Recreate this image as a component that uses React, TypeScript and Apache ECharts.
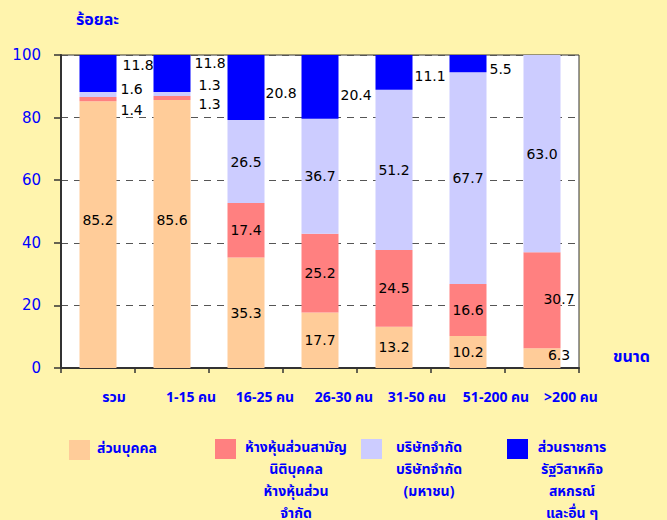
import React, { useEffect, useRef } from "react";
import * as echarts from "echarts";

const categories = ["รวม", "1-15 คน", "16-25 คน", "26-30 คน", "31-50 คน", "51-200 คน", ">200 คน"];
const personal = [85.2, 85.6, 35.3, 17.7, 13.2, 10.2, 6.3];
const partnership = [1.4, 1.3, 17.4, 25.2, 24.5, 16.6, 30.7];
const company = [1.6, 1.3, 26.5, 36.7, 51.2, 67.7, 63.0];
const government = [11.8, 11.8, 20.8, 20.4, 11.1, 5.5, 0];
const yTicks = [0, 20, 40, 60, 80, 100];

const seriesNames = [
  "ส่วนบุคคล",
  "ห้างหุ้นส่วนสามัญ\nนิติบุคคล\nห้างหุ้นส่วน\nจำกัด",
  "บริษัทจำกัด\nบริษัทจำกัด\n(มหาชน)",
  "ส่วนราชการ\nรัฐวิสาหกิจ\nสหกรณ์\nและอื่น ๆ",
];
const seriesValues = [personal, partnership, company, government];
const colors = ["#FFCC99", "#FF8080", "#CCCCFF", "#0000FF"];

// layout-only tweaks
const labelTweaks: Record<string, { pos: string; dx: number; dy: number }> = {
  "0-0": { pos: "inside", dx: 0, dy: -15 },
  "0-1": { pos: "inside", dx: 0, dy: -14 },
  "0-6": { pos: "inside", dx: 17, dy: -3 },
  "1-0": { pos: "right", dx: 2, dy: 11 },
  "1-1": { pos: "right", dx: 6, dy: 6 },
  "1-6": { pos: "inside", dx: 17, dy: -1 },
  "2-0": { pos: "right", dx: 2, dy: -5 },
  "2-1": { pos: "right", dx: 6, dy: -9 },
  "3-0": { pos: "right", dx: 4, dy: -8 },
  "3-1": { pos: "right", dx: 2, dy: -10 },
  "3-2": { pos: "right", dx: -1, dy: 5 },
  "3-3": { pos: "right", dx: 0, dy: 8 },
  "3-4": { pos: "right", dx: 0, dy: 4 },
  "3-5": { pos: "right", dx: 1, dy: 5 },
};
const xLabelShift = [16, 19, 19, 24, 23, 28, 29];
const legendLayout = [
  { left: 69, width: 64 },
  { left: 215, width: 110 },
  { left: 361, width: 84 },
  { left: 507, width: 78 },
];
const LEGEND_LINE = 22;
const LEGEND_LIFT = 4;
const LEGEND_CENTER_Y = 453;

const THAI = "Tahoma, 'Noto Sans Thai', 'Noto Sans', 'DejaVu Sans', sans-serif";
const NUM = "'DejaVu Sans', Verdana, sans-serif";
const BLUE = "#0000FF";

export default function App() {
  const ref = useRef<HTMLDivElement>(null);
  useEffect(() => {
    document.body.style.margin = "0";
    const chart = echarts.init(ref.current!, undefined, { renderer: "svg" });
    const series = seriesValues.map((vals, s) => ({
      type: "bar",
      name: seriesNames[s],
      stack: "total",
      barWidth: "50%",
      itemStyle: { color: colors[s] },
      label: {
        show: true,
        position: "inside",
        color: "#000",
        fontFamily: NUM,
        fontSize: 14,
        formatter: (p: any) => (p.value ? Number(p.value).toFixed(1) : ""),
      },
      data: vals.map((v, i) => {
        const t = labelTweaks[`${s}-${i}`];
        return t
          ? { value: v, label: { position: t.pos, distance: 2, offset: [t.dx, t.dy] } }
          : { value: v };
      }),
    }));
    chart.setOption({
      animation: false,
      backgroundColor: "#FFF4AD",
      grid: {
        left: 61,
        top: 55,
        right: 88,
        bottom: 152,
        show: true,
        backgroundColor: "#FFFFFF",
        borderColor: "#333",
        borderWidth: 1,
      },
      legend: legendLayout.map((l, s) => {
        const n = seriesNames[s].split("\n").length;
        return {
          data: [seriesNames[s]],
          left: l.left,
          top: LEGEND_CENTER_Y - ((2 * n - 1) * LEGEND_LINE + LEGEND_LIFT) / 2,
          padding: 0,
          itemWidth: 21,
          itemHeight: 20,
          icon: "rect",
          selectedMode: false,
          formatter: (name: string) => {
            const lines = name.split("\n");
            const pad = lines.slice(1).map(() => "{c| }");
            return pad.concat(lines.map((line) => `{c|${line}}`)).join("\n");
          },
          textStyle: {
            color: BLUE,
            padding: [0, 0, LEGEND_LIFT, 0],
            rich: {
              c: {
                width: l.width,
                align: "center",
                lineHeight: LEGEND_LINE,
                fontSize: 14,
                fontWeight: "bold",
                fontFamily: THAI,
                color: BLUE,
              },
            },
          },
        };
      }),
      xAxis: {
        type: "category",
        data: categories.map((c, i) => ({
          value: c,
          textStyle: { padding: [0, 0, 0, 2 * xLabelShift[i]] },
        })),
        axisLine: { show: true, lineStyle: { color: "#333", width: 2 } },
        axisTick: { show: true, length: 5, lineStyle: { color: "#333", width: 1.5 } },
        axisLabel: {
          interval: 0,
          color: BLUE,
          fontSize: 14,
          fontWeight: "bold",
          fontFamily: THAI,
          margin: 22,
        },
      },
      yAxis: {
        type: "value",
        min: yTicks[0],
        max: yTicks[yTicks.length - 1],
        interval: 20,
        axisLine: { show: true, lineStyle: { color: "#333", width: 2 } },
        axisTick: { show: true, length: 7, lineStyle: { color: "#333", width: 1.5 } },
        axisLabel: {
          color: BLUE,
          fontSize: 15,
          fontFamily: NUM,
          margin: 20,
          padding: [8, 0, 0, 0],
        },
        splitLine: {
          show: true,
          lineStyle: { color: "#555", type: [7, 6], width: 1.2 },
        },
      },
      graphic: [
        {
          type: "text",
          left: 76,
          top: 12,
          style: { text: "ร้อยละ", fill: BLUE, font: `bold 16px ${THAI}` },
        },
        {
          type: "text",
          left: 613,
          top: 349,
          style: { text: "ขนาด", fill: BLUE, font: `bold 16px ${THAI}` },
        },
      ],
      series,
    });
    return () => chart.dispose();
  }, []);
  return <div ref={ref} style={{ width: 667, height: 520 }} />;
}
